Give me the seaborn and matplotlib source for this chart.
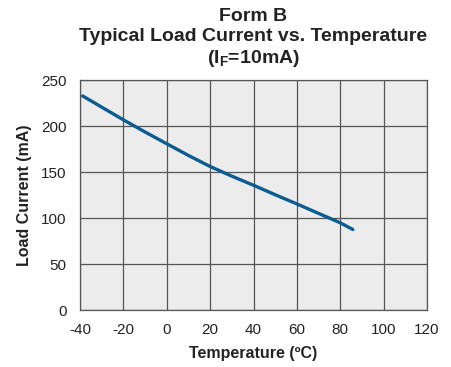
import matplotlib
matplotlib.use("Agg")
import matplotlib.pyplot as plt
import seaborn as sns
import pandas as pd

temperature = [-38.8, -30, -20, -10, 0, 10, 20, 30, 40, 50, 60, 70, 80, 85.8]
load_current = [232.7, 220.5, 206.7, 193.5, 180.7, 168.0, 156.0, 145.5, 135.6, 125.3, 115.3, 105.0, 94.8, 87.5]
x_ticks = [-40, -20, 0, 20, 40, 60, 80, 100, 120]
y_ticks = [0, 50, 100, 150, 200, 250]

sns.set_theme(style="whitegrid")
plt.rcParams['font.family'] = ['Liberation Sans', 'DejaVu Sans']
plt.rcParams['mathtext.fontset'] = 'custom'
plt.rcParams['mathtext.rm'] = 'Liberation Sans'
plt.rcParams['mathtext.bf'] = 'Liberation Sans:bold'

df = pd.DataFrame({"Temperature": temperature, "Load": load_current})

fig = plt.figure(figsize=(4.51, 3.67), dpi=100)
ax = fig.add_axes([80/451, 1-310/367, (427-80)/451, (310-80)/367])
ax.set_facecolor('#ececec')
sns.lineplot(data=df, x="Temperature", y="Load", ax=ax, color='#0a5c91', linewidth=2.4)

ax.set_xlim(-40, 120)
ax.set_ylim(0, 250)
ax.set_xticks(x_ticks)
ax.set_yticks(y_ticks)
ax.set_xticklabels([str(v) for v in x_ticks])
ax.set_yticklabels([str(v) for v in y_ticks])
ax.grid(True, color='#555555', linewidth=0.9)
ax.tick_params(axis='x', length=0, labelsize=11, colors='#222222', pad=9)
ax.tick_params(axis='y', length=0, labelsize=11, colors='#222222', pad=9.5)
for s in ax.spines.values():
    s.set_color('#555555')
    s.set_linewidth(0.9)

ax.set_xlabel('Temperature (ºC)', fontsize=11.5, fontweight='bold', color='#222222', labelpad=7)
ax.set_ylabel('Load Current (mA)', fontsize=11.5, fontweight='bold', color='#222222', labelpad=7)
ax.set_title('Form B\nTypical Load Current vs. Temperature\n(I$_\\mathbf{F}$=10mA)',
             fontsize=14, fontweight='bold', color='#222222', pad=12, linespacing=1.22)

fig.savefig('out.png', dpi=100)
